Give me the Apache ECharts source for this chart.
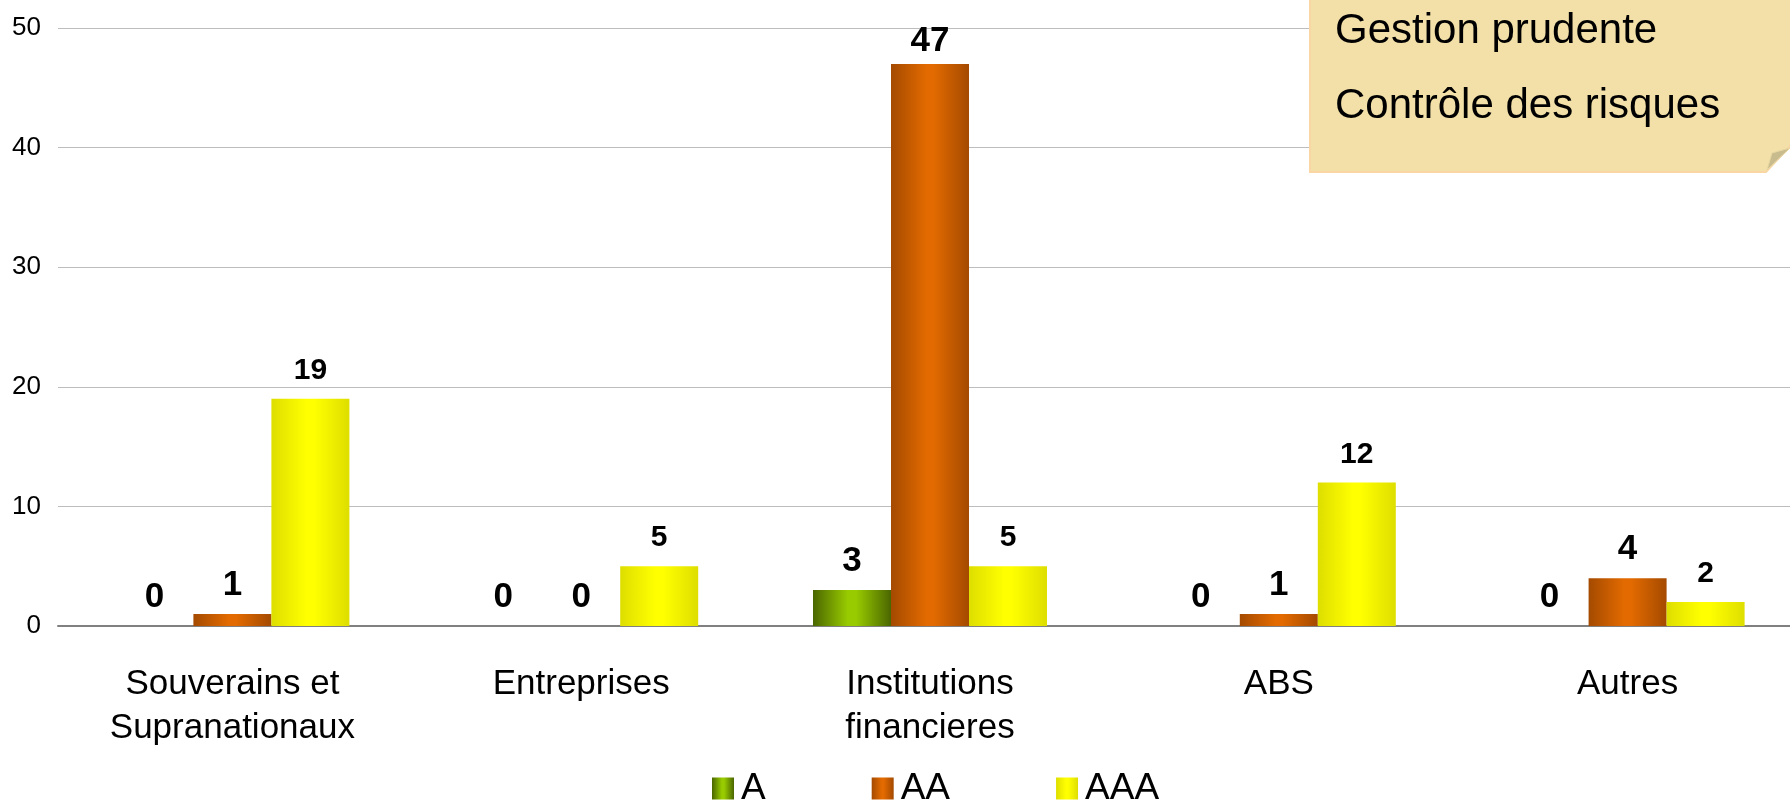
<!DOCTYPE html>
<html>
<head>
<meta charset="utf-8">
<script src="https://cdn.jsdelivr.net/npm/echarts@6/dist/echarts.min.js"></script>
<style>
html,body{margin:0;padding:0;background:#fff;overflow:hidden;}
#chart{width:1812px;height:801px;}
</style>
</head>
<body>
<div id="chart"></div>
<script>
const categories = ['Souverains et\nSupranationaux', 'Entreprises', 'Institutions\nfinancieres', 'ABS', 'Autres'];
const seriesNames = ['A', 'AA', 'AAA'];
const valuesA = [0, 0, 3, 0, 0];
const valuesAA = [1, 0, 47, 1, 4];
const valuesAAA = [19, 5, 5, 12, 2];
const yTicks = [0, 10, 20, 30, 40, 50];
const noteLines = ['Gestion prudente', 'Contrôle des risques'];

const FONT = '"Liberation Sans", Arial, sans-serif';

function grad(edge, center) {
  return {
    type: 'linear', x: 0, y: 0, x2: 1, y2: 0,
    colorStops: [
      { offset: 0, color: edge },
      { offset: 0.45, color: center },
      { offset: 0.55, color: center },
      { offset: 1, color: edge }
    ]
  };
}

const colors = [
  grad('#4a6600', '#99cc00'),
  grad('#a44a00', '#e26a00'),
  grad('#dede00', '#ffff00')
];
const labelSizes = [35, 35, 30];
const labelDistances = [11, 11, 13];
const dataSets = [valuesA, valuesAA, valuesAAA];
const yMax = yTicks[yTicks.length - 1];

const chart = echarts.init(document.getElementById('chart'), null, { renderer: 'canvas' });

const series = seriesNames.map((name, i) => ({
  name: name,
  type: 'bar',
  // labels of bars close to the top of the plot sit a little closer to the bar
  data: dataSets[i].map(v => (v > yMax - 5 ? { value: v, label: { distance: 5 } } : v)),
  barWidth: 78,
  barGap: '0%',
  itemStyle: { color: colors[i] },
  label: {
    show: true,
    position: 'top',
    distance: labelDistances[i],
    fontFamily: FONT,
    fontWeight: 'bold',
    fontSize: labelSizes[i],
    color: '#000'
  },
  emphasis: { disabled: true },
  animation: false
}));

chart.setOption({
  animation: false,
  textStyle: { fontFamily: FONT },
  grid: { left: 58, top: 28, width: 1744, height: 598, containLabel: false },
  legend: {
    data: seriesNames,
    left: 707,
    top: 765,
    itemWidth: 22,
    itemHeight: 22,
    itemGap: 106,
    icon: 'rect',
    textStyle: { fontFamily: FONT, fontSize: 37, color: '#000', padding: [0, 0, 0, 2] }
  },
  xAxis: {
    type: 'category',
    data: categories,
    axisLine: { show: true, lineStyle: { color: '#808080', width: 2 } },
    axisTick: { show: false },
    axisLabel: {
      fontFamily: FONT, fontSize: 35, lineHeight: 44, color: '#000', margin: 36, interval: 0
    },
    splitLine: { show: false }
  },
  yAxis: {
    type: 'value',
    min: yTicks[0],
    max: yMax,
    interval: yTicks[1] - yTicks[0],
    axisLine: { show: false },
    axisTick: { show: false },
    axisLabel: { fontFamily: FONT, fontSize: 26, color: '#000', margin: 17 },
    splitLine: { show: true, lineStyle: { color: '#bdbdbd', width: 1 } }
  },
  series: series,
  graphic: [
    {
      type: 'polygon',
      shape: { points: [[1310, -5], [1815, -5], [1815, 146], [1790, 146], [1766, 172], [1310, 172]] },
      style: { fill: '#f2e0a8', stroke: '#f9d6a4', lineWidth: 2 },
      z: 100
    },
    {
      type: 'polygon',
      shape: { points: [[1767, 170], [1772, 153], [1790, 148]] },
      style: { fill: '#c8bb8e', stroke: '#e8d6a0', lineWidth: 1 },
      z: 101
    },
    {
      type: 'text',
      x: 1335,
      y: 31,
      style: { text: noteLines[0], fontFamily: FONT, fontSize: 42, fill: '#000', verticalAlign: 'middle' },
      z: 102
    },
    {
      type: 'text',
      x: 1335,
      y: 106,
      style: { text: noteLines[1], fontFamily: FONT, fontSize: 42, fill: '#000', verticalAlign: 'middle' },
      z: 102
    }
  ]
});
</script>
</body>
</html>
